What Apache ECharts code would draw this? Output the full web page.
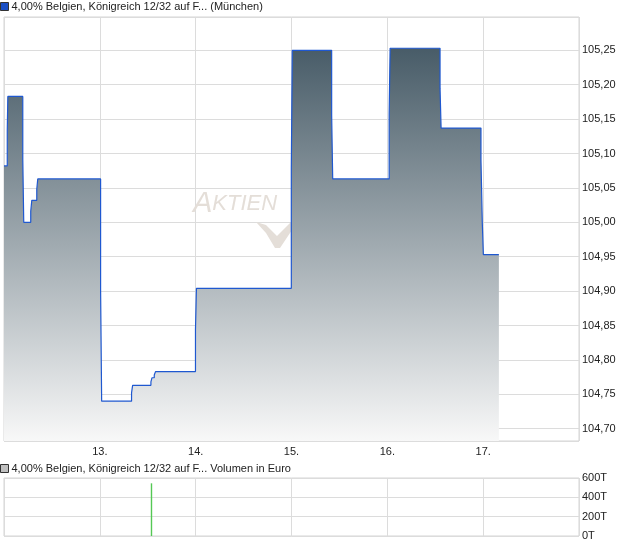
<!DOCTYPE html>
<html>
<head>
<meta charset="utf-8">
<script src="https://cdn.jsdelivr.net/npm/echarts@6/dist/echarts.min.js"></script>
<style>
html,body{margin:0;padding:0;background:#fff;}
#chart{width:620px;height:546px;}
</style>
</head>
<body>
<div id="chart"></div>
<script>
// ---- data ----
const seriesName = '4,00% Belgien, Königreich 12/32 auf F... (München)';
const volumeName = '4,00% Belgien, Königreich 12/32 auf F... Volumen in Euro';
// time in days of month (12 = start of the 12th)
const priceTimes = [12.0, 12.034, 12.040, 12.196, 12.206, 12.279, 12.290, 12.342, 12.352,
  13.008, 13.019, 13.331, 13.342, 13.533, 13.544, 13.568, 13.581, 13.998, 14.008,
  14.998, 15.008, 15.419, 15.430, 16.019, 16.029, 16.550, 16.561, 16.977, 16.991, 17.002, 17.164];
const prices = [105.082, 105.133, 105.183, 105.092, 105.000, 105.016, 105.032, 105.048, 105.063,
  104.902, 104.740, 104.752, 104.763, 104.768, 104.774, 104.778, 104.783, 104.844, 104.904,
  105.077, 105.250, 105.156, 105.063, 105.157, 105.253, 105.195, 105.137, 105.091, 104.999, 104.953, 104.953];
const volTimes = [13.539];
const volumes = [545000];
const dayTicks = [13, 14, 15, 16, 17];
const dayLabels = ['13.', '14.', '15.', '16.', '17.'];
const volTickLabels = ['0T', '200T', '400T', '600T'];

const priceData = priceTimes.map((t, i) => [t, prices[i]]);
const volData = volTimes.map((t, i) => [t, volumes[i]]);

const FONT = '"Liberation Sans", Arial, sans-serif';
const gridLine = '#dcdcdc';

const chart = echarts.init(document.getElementById('chart'), null, {renderer: 'canvas'});
chart.setOption({
  animation: false,
  backgroundColor: '#ffffff',
  textStyle: {fontFamily: FONT},
  legend: [
    {
      left: 0, top: 1, padding: 0, itemWidth: 8, itemHeight: 8, itemGap: 4,
      selectedMode: false, icon: 'rect',
      textStyle: {fontSize: 11, color: '#222', fontFamily: FONT, padding: [0, 0, 0, -2]},
      data: [{name: seriesName, itemStyle: {color: '#1a4fc4', borderColor: '#333', borderWidth: 1}}]
    },
    {
      left: 0, top: 463, padding: 0, itemWidth: 8, itemHeight: 8,
      selectedMode: false, icon: 'rect',
      textStyle: {fontSize: 11, color: '#222', fontFamily: FONT, padding: [0, 0, 0, -2]},
      data: [{name: volumeName, itemStyle: {color: '#c0c0c0', borderColor: '#333', borderWidth: 1}}]
    }
  ],
  grid: [
    {left: 4, top: 17, width: 575, height: 424, show: true, borderColor: '#d4d4d4', borderWidth: 1},
    {left: 4, top: 478, width: 575, height: 58, show: true, borderColor: '#d4d4d4', borderWidth: 1}
  ],
  xAxis: [
    {
      type: 'value', gridIndex: 0, min: 12, max: 18, interval: 1,
      axisLine: {show: false}, axisTick: {show: false},
      splitLine: {show: true, lineStyle: {color: gridLine, width: 1}},
      axisLabel: {
        margin: 5, fontSize: 11, color: '#222', fontFamily: FONT,
        showMinLabel: false, showMaxLabel: false,
        formatter: v => { const i = dayTicks.indexOf(Math.round(v)); return i >= 0 ? dayLabels[i] : ''; }
      }
    },
    {
      type: 'value', gridIndex: 1, min: 12, max: 18, interval: 1,
      axisLine: {show: false}, axisTick: {show: false},
      splitLine: {show: true, lineStyle: {color: gridLine, width: 1}},
      axisLabel: {show: false}
    }
  ],
  yAxis: [
    {
      type: 'value', gridIndex: 0, position: 'right',
      min: 104.6821, max: 105.2984, splitNumber: 12,
      minInterval: 0.05, maxInterval: 0.05,
      axisLine: {show: false}, axisTick: {show: false},
      splitLine: {show: true, lineStyle: {color: gridLine, width: 1}},
      axisLabel: {
        margin: 3, fontSize: 11, color: '#222', fontFamily: FONT,
        showMinLabel: false, showMaxLabel: false,
        formatter: v => v.toFixed(2).replace('.', ',')
      }
    },
    {
      type: 'value', gridIndex: 1, position: 'right',
      min: 0, max: 600000, interval: 200000,
      axisLine: {show: false}, axisTick: {show: false},
      splitLine: {show: true, lineStyle: {color: gridLine, width: 1}},
      axisLabel: {
        margin: 3, fontSize: 11, color: '#222', fontFamily: FONT,
        formatter: v => volTickLabels[Math.round(v / 200000)]
      }
    }
  ],
  graphic: [
    {
      type: 'text', z: 1, left: 193, top: 189, silent: true,
      style: {
        text: '{a|A}{b|KTIEN}',
        rich: {
          a: {fontSize: 29, fontStyle: 'italic', fontFamily: FONT, fill: '#e4ded8'},
          b: {fontSize: 22, fontStyle: 'italic', fontFamily: FONT, fill: '#e4ded8'}
        }
      }
    },
    {
      type: 'polygon', z: 1, silent: true,
      shape: {points: [[256, 222], [266, 225], [277, 236], [294, 219], [294, 227], [280, 248], [275, 248], [266, 233]]},
      style: {fill: '#e4ded8'}
    }
  ],
  series: [
    {
      name: seriesName, type: 'line', xAxisIndex: 0, yAxisIndex: 0,
      step: 'end', symbol: 'none', data: priceData, z: 3,
      lineStyle: {color: '#1f58d0', width: 1.2},
      itemStyle: {color: '#1a4fc4'},
      areaStyle: {
        origin: 'start', opacity: 1,
        color: new echarts.graphic.LinearGradient(0, 0, 0, 1, [
          {offset: 0, color: '#485c68'},
          {offset: 1, color: '#f8f8f8'}
        ])
      }
    },
    {
      name: volumeName, type: 'bar', xAxisIndex: 1, yAxisIndex: 1,
      data: volData, barWidth: 1.4, z: 3,
      itemStyle: {color: '#55c855', opacity: 1}
    }
  ]
});
</script>
</body>
</html>
